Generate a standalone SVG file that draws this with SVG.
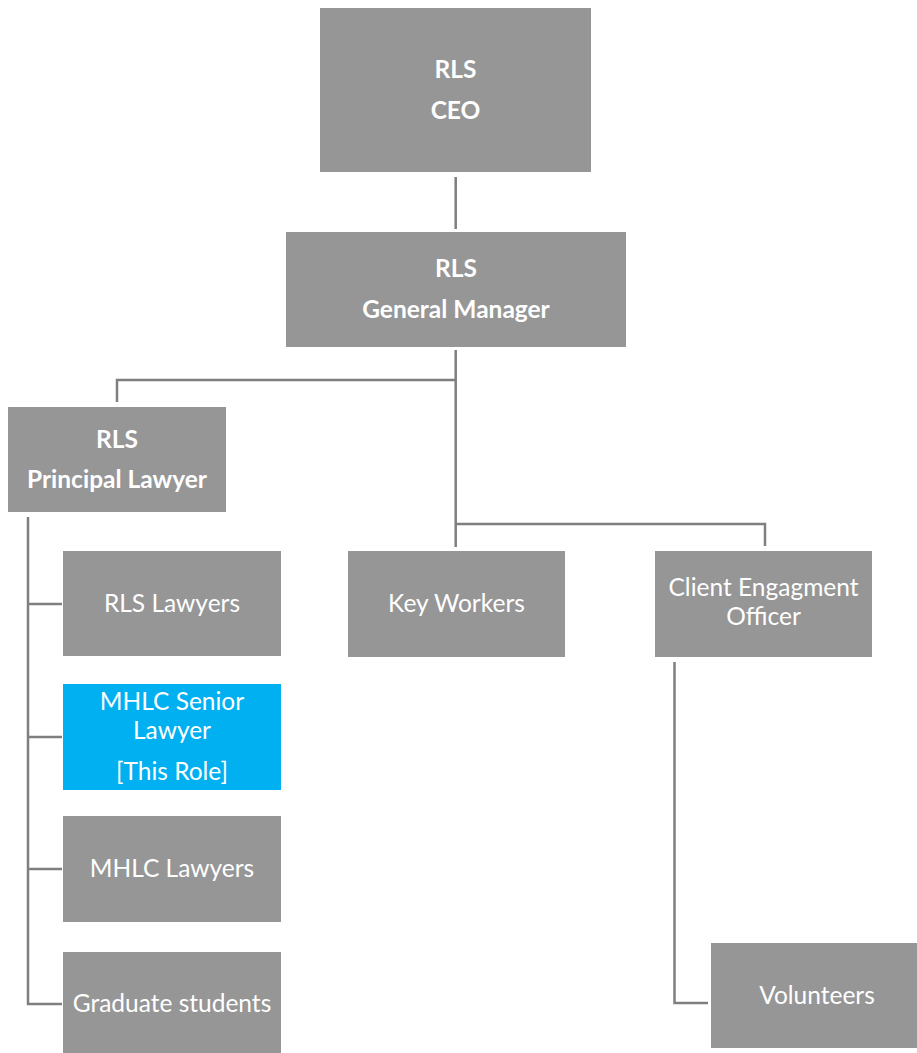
<svg xmlns="http://www.w3.org/2000/svg" width="917" height="1053" viewBox="0 0 917 1053">
<style>
.box{fill:#969696}
.hl{fill:#00B0F0}
.t{font-family:Lato,"Liberation Sans",sans-serif;font-size:24.5px;fill:#fff;text-anchor:middle}
.b{font-weight:bold}
.c{fill:none;stroke:#7f7f7f;stroke-width:2.5}
</style>
<rect width="917" height="1053" fill="#fff"/>
<g id="connectors">
<path class="c" d="M455.7 177V229"/>
<path class="c" d="M455.7 350V523"/>
<path class="c" d="M117 402V380H455.7"/>
<path class="c" d="M455.7 547V524H765V546"/>
<path class="c" d="M28 517V1004H62"/>
<path class="c" d="M28 604H62M28 737H62M28 869H62"/>
<path class="c" d="M674.5 662V1003H708"/>
</g>
<g id="ceo"><rect class="box" x="320" y="8" width="271" height="164"/>
<text class="t b" x="455.5" y="78">RLS</text><text class="t b" x="455.5" y="119">CEO</text></g>
<g id="gm"><rect class="box" x="286" y="232" width="340" height="115"/>
<text class="t b" x="456" y="277">RLS</text><text class="t b" x="456" y="318">General Manager</text></g>
<g id="principal"><rect class="box" x="8" y="407" width="218" height="105"/>
<text class="t b" x="117" y="448">RLS</text><text class="t b" x="117" y="488">Principal Lawyer</text></g>
<g id="rls-lawyers"><rect class="box" x="63" y="551" width="218" height="105"/>
<text class="t" x="172" y="612">RLS Lawyers</text></g>
<g id="mhlc-senior"><rect class="hl" x="63" y="684" width="218" height="106"/>
<text class="t" x="172" y="710">MHLC Senior</text><text class="t" x="172" y="739">Lawyer</text><text class="t" x="172" y="780">[This Role]</text></g>
<g id="mhlc-lawyers"><rect class="box" x="63" y="816" width="218" height="106"/>
<text class="t" x="172" y="877">MHLC Lawyers</text></g>
<g id="graduates"><rect class="box" x="63" y="952" width="218" height="101"/>
<text class="t" x="172" y="1012">Graduate students</text></g>
<g id="key-workers"><rect class="box" x="348" y="551" width="217" height="106"/>
<text class="t" x="456.5" y="612">Key Workers</text></g>
<g id="client-officer"><rect class="box" x="655" y="551" width="217" height="106"/>
<text class="t" x="763.5" y="596">Client Engagment</text><text class="t" x="763.5" y="625">Officer</text></g>
<g id="volunteers"><rect class="box" x="711" y="943" width="206" height="105"/>
<text class="t" x="817" y="1004">Volunteers</text></g>
</svg>
